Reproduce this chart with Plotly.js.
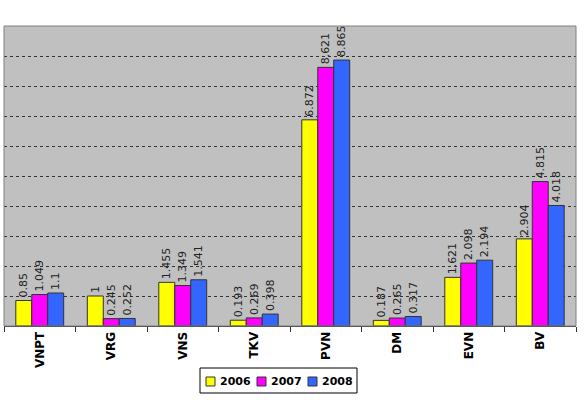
<!DOCTYPE html>
<html><head><meta charset="utf-8">
<script src="https://cdn.plot.ly/plotly-3.0.1.min.js"></script>
<style>html,body{margin:0;padding:0;background:#fff;}#chart{width:587px;height:400px;}</style>
</head><body><div id="chart"></div>
<script>
var categories = ['VNPT','VRG','VNS','TKV','PVN','DM','EVN','BV'];
var years = ['2006','2007','2008'];
var values2006 = [0.85, 1, 1.455, 0.193, 6.872, 0.187, 1.621, 2.904];
var values2007 = [1.049, 0.245, 1.349, 0.269, 8.621, 0.265, 2.098, 4.815];
var values2008 = [1.1, 0.252, 1.541, 0.398, 8.865, 0.317, 2.194, 4.018];
var colors = ['#ffff00', '#ff00ff', '#3366ff'];

var series = [values2006, values2007, values2008];
var traces = series.map(function(vals, i){
  return {
    type: 'bar', name: years[i], x: categories, y: vals,
    text: vals.map(String), textposition: 'outside', textangle: -90,
    constraintext: 'none', cliponaxis: false,
    textfont: {family: 'DejaVu Sans', size: 11, color: '#222'},
    marker: {color: colors[i], line: {color: '#333', width: 1}},
    hoverinfo: 'skip'
  };
});

// plot area in pixels: left 4, width 572, top 26, height 300
function px(x){ return (x - 4) / 572; }
function py(y){ return (326 - y) / 300; }

var shapes = [{type: 'rect', xref: 'paper', yref: 'paper', x0: 0, x1: 1, y0: 0, y1: 1,
  line: {color: '#808080', width: 1}}];
// legend box
shapes.push({type: 'rect', xref: 'paper', yref: 'paper', x0: px(200), x1: px(357), y0: py(368), y1: py(393),
  line: {color: '#000', width: 1}, fillcolor: '#fff'});
var annotations = [];
years.forEach(function(yr, i){
  var sx = 206 + 51 * i;
  shapes.push({type: 'rect', xref: 'paper', yref: 'paper', x0: px(sx), x1: px(sx + 9), y0: py(377), y1: py(386),
    line: {color: '#333', width: 1}, fillcolor: colors[i]});
  annotations.push({xref: 'paper', yref: 'paper', x: px(sx + 12), y: py(381.5), xanchor: 'left', yanchor: 'middle',
    text: yr, showarrow: false, font: {family: 'DejaVu Sans', size: 11, color: '#000', weight: 'bold'}});
});

var layout = {
  width: 587, height: 400,
  margin: {l: 4, r: 11, t: 26, b: 74},
  paper_bgcolor: '#fff', plot_bgcolor: '#c0c0c0',
  barmode: 'group', bargap: 0.33, bargroupgap: 0,
  showlegend: false,
  xaxis: {type: 'category', tickangle: -90, tickson: 'boundaries', ticks: 'outside', ticklen: 5,
    tickcolor: '#333', showline: true, linecolor: '#333', linewidth: 1, showgrid: false,
    tickfont: {family: 'DejaVu Sans', size: 12, color: '#000', weight: 'bold'}},
  yaxis: {range: [0, 10], dtick: 1, showticklabels: false, ticks: '',
    showgrid: true, gridcolor: '#333', gridwidth: 1, griddash: '3px,3px', zeroline: false},
  shapes: shapes,
  annotations: annotations,
  font: {family: 'DejaVu Sans'}
};
Plotly.newPlot('chart', traces, layout, {displayModeBar: false, staticPlot: true});
</script></body></html>
